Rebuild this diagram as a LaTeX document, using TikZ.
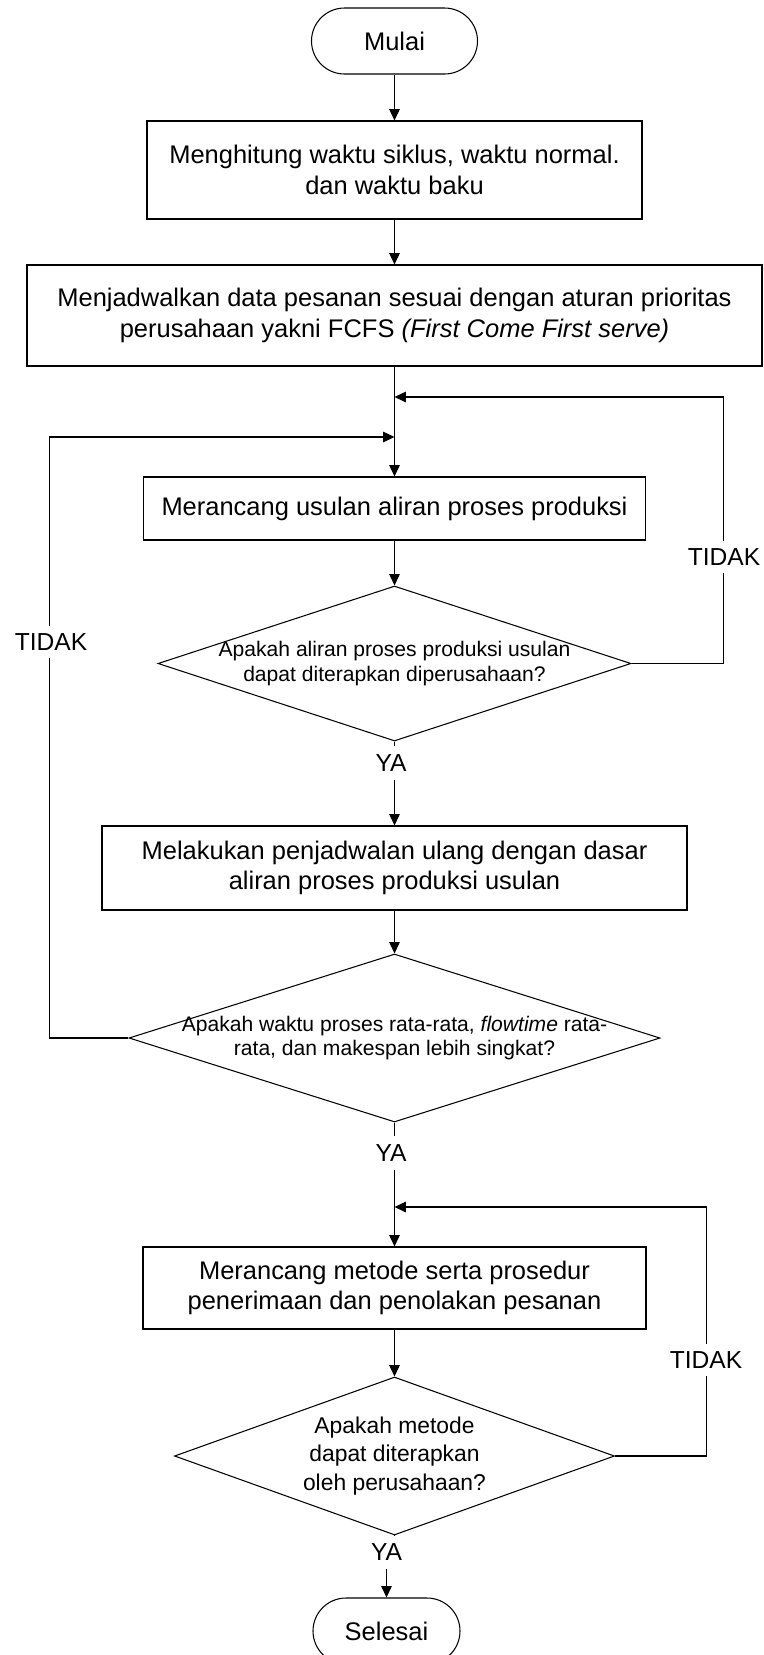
\documentclass[tikz,border=0pt]{standalone}
\usepackage{fontspec}
\setmainfont{Liberation Sans}
\usetikzlibrary{shapes.geometric,arrows.meta}

\begin{document}
\begin{tikzpicture}[line width=0.6pt,
  proses/.style={draw, rectangle, align=center, inner sep=0pt, font=\fontsize{14.5}{17.5}\selectfont},
  ujung/.style={draw, rectangle, rounded corners=0.66cm, minimum width=3.32cm, minimum height=1.32cm, font=\fontsize{14.5}{17.5}\selectfont},
  keputusan/.style={draw, diamond, inner sep=0pt},
  tanya/.style={align=center, inner sep=0pt, font=\fontsize{12}{14}\selectfont},
  ket/.style={fill=white, inner xsep=1pt, inner ysep=4.5pt, font=\fontsize{14}{16}\selectfont},
  alur/.style={-{Triangle[length=6.5pt,width=6pt]}}]
%
%''''''''''''''''''''''''''''page size and main column''''''''''''''''''''''''''''''''''''''''''''''''''
\useasboundingbox (0,0) rectangle (15.26,-33.1);
\def\cx{7.89}% x of the main column
%''''''''''''''''''''''''''''''''''''''''''''''''''''''''''''''''''''''''''''''''''''''''''''''''''''''
%
% steps
\node[ujung] (mulai) at (\cx,-0.82) {Mulai};
\node[proses, minimum width=9.9cm, minimum height=1.96cm] (hitung) at (\cx,-3.40) {Menghitung waktu siklus, waktu normal.\\dan waktu baku};
\node[proses, minimum width=14.7cm, minimum height=2.02cm] (jadwal) at (\cx,-6.31) {Menjadwalkan data pesanan sesuai dengan aturan prioritas\\perusahaan yakni FCFS \textit{(First Come First serve)}};
\node[proses, minimum width=10.04cm, minimum height=1.26cm] (rancang) at (\cx,-10.17) {Merancang usulan aliran proses produksi};
\node[keputusan, minimum width=9.46cm, minimum height=3.10cm] (cek1) at (\cx,-13.27) {};
\node[tanya] (tanya1) at (cek1) {Apakah aliran proses produksi usulan\\dapat diterapkan diperusahaan?};
\node[proses, minimum width=11.7cm, minimum height=1.68cm] (ulang) at (\cx,-17.36) {Melakukan penjadwalan ulang dengan dasar\\aliran proses produksi usulan};
\node[keputusan, minimum width=10.62cm, minimum height=3.36cm] (cek2) at (\cx,-20.76) {};
\node[tanya] (tanya2) at (cek2) {Apakah waktu proses rata-rata, \textit{flowtime} rata-\\rata, dan makespan lebih singkat?};
\node[proses, minimum width=10.06cm, minimum height=1.64cm] (metode) at (\cx,-25.76) {Merancang metode serta prosedur\\penerimaan dan penolakan pesanan};
\node[keputusan, minimum width=8.8cm, minimum height=3.16cm] (cek3) at (\cx,-29.12) {};
\node[tanya, font=\fontsize{13}{16}\selectfont] (tanya3) at (cek3) {Apakah metode\\dapat diterapkan\\oleh perusahaan?};
\node[ujung, minimum width=2.94cm] (selesai) at (7.73,-32.62) {Selesai};
%
% points where the loops come back
\coordinate (j1) at (\cx,-7.94);
\coordinate (j2) at (\cx,-8.74);
\coordinate (j3) at (\cx,-24.14);
%
% YA labels
\node[ket] (ya1) at (7.82,-15.26) {YA};
\node[ket] (ya2) at (7.82,-23.06) {YA};
\node[ket] (ya3) at (7.73,-31.04) {YA};
%
% main flow
\draw[alur] (mulai.south) -- (hitung.north);
\draw[alur] (hitung.south) -- (jadwal.north);
\draw[alur] (jadwal.south) -- (rancang.north);
\draw[alur] (rancang.south) -- (cek1.north);
\draw (cek1.south) -- (cek1.south |- ya1.north);
\draw[alur] (ulang.north |- ya1.south) -- (ulang.north);
\draw[alur] (ulang.south) -- (cek2.north);
\draw (cek2.south) -- (cek2.south |- ya2.north);
\draw[alur] (metode.north |- ya2.south) -- (metode.north);
\draw[alur] (metode.south) -- (cek3.north);
\draw (cek3.south) -- (cek3.south |- ya3.north);
\draw[alur] (selesai.north |- ya3.south) -- (selesai.north);
%
% loops back
\draw[alur] (cek1.east) -- ++(1.84,0) |- (j1);
\draw[alur] (cek2.west) -- ++(-1.58,0) |- (j2);
\draw[alur] (cek3.east) -- ++(1.82,0) |- (j3);
\node[ket] (tidak1) at (14.48,-11.14) {TIDAK};
\node[ket] (tidak2) at (1.02,-12.84) {TIDAK};
\node[ket] (tidak3) at (14.12,-27.2) {TIDAK};
%
\end{tikzpicture}
\end{document}
